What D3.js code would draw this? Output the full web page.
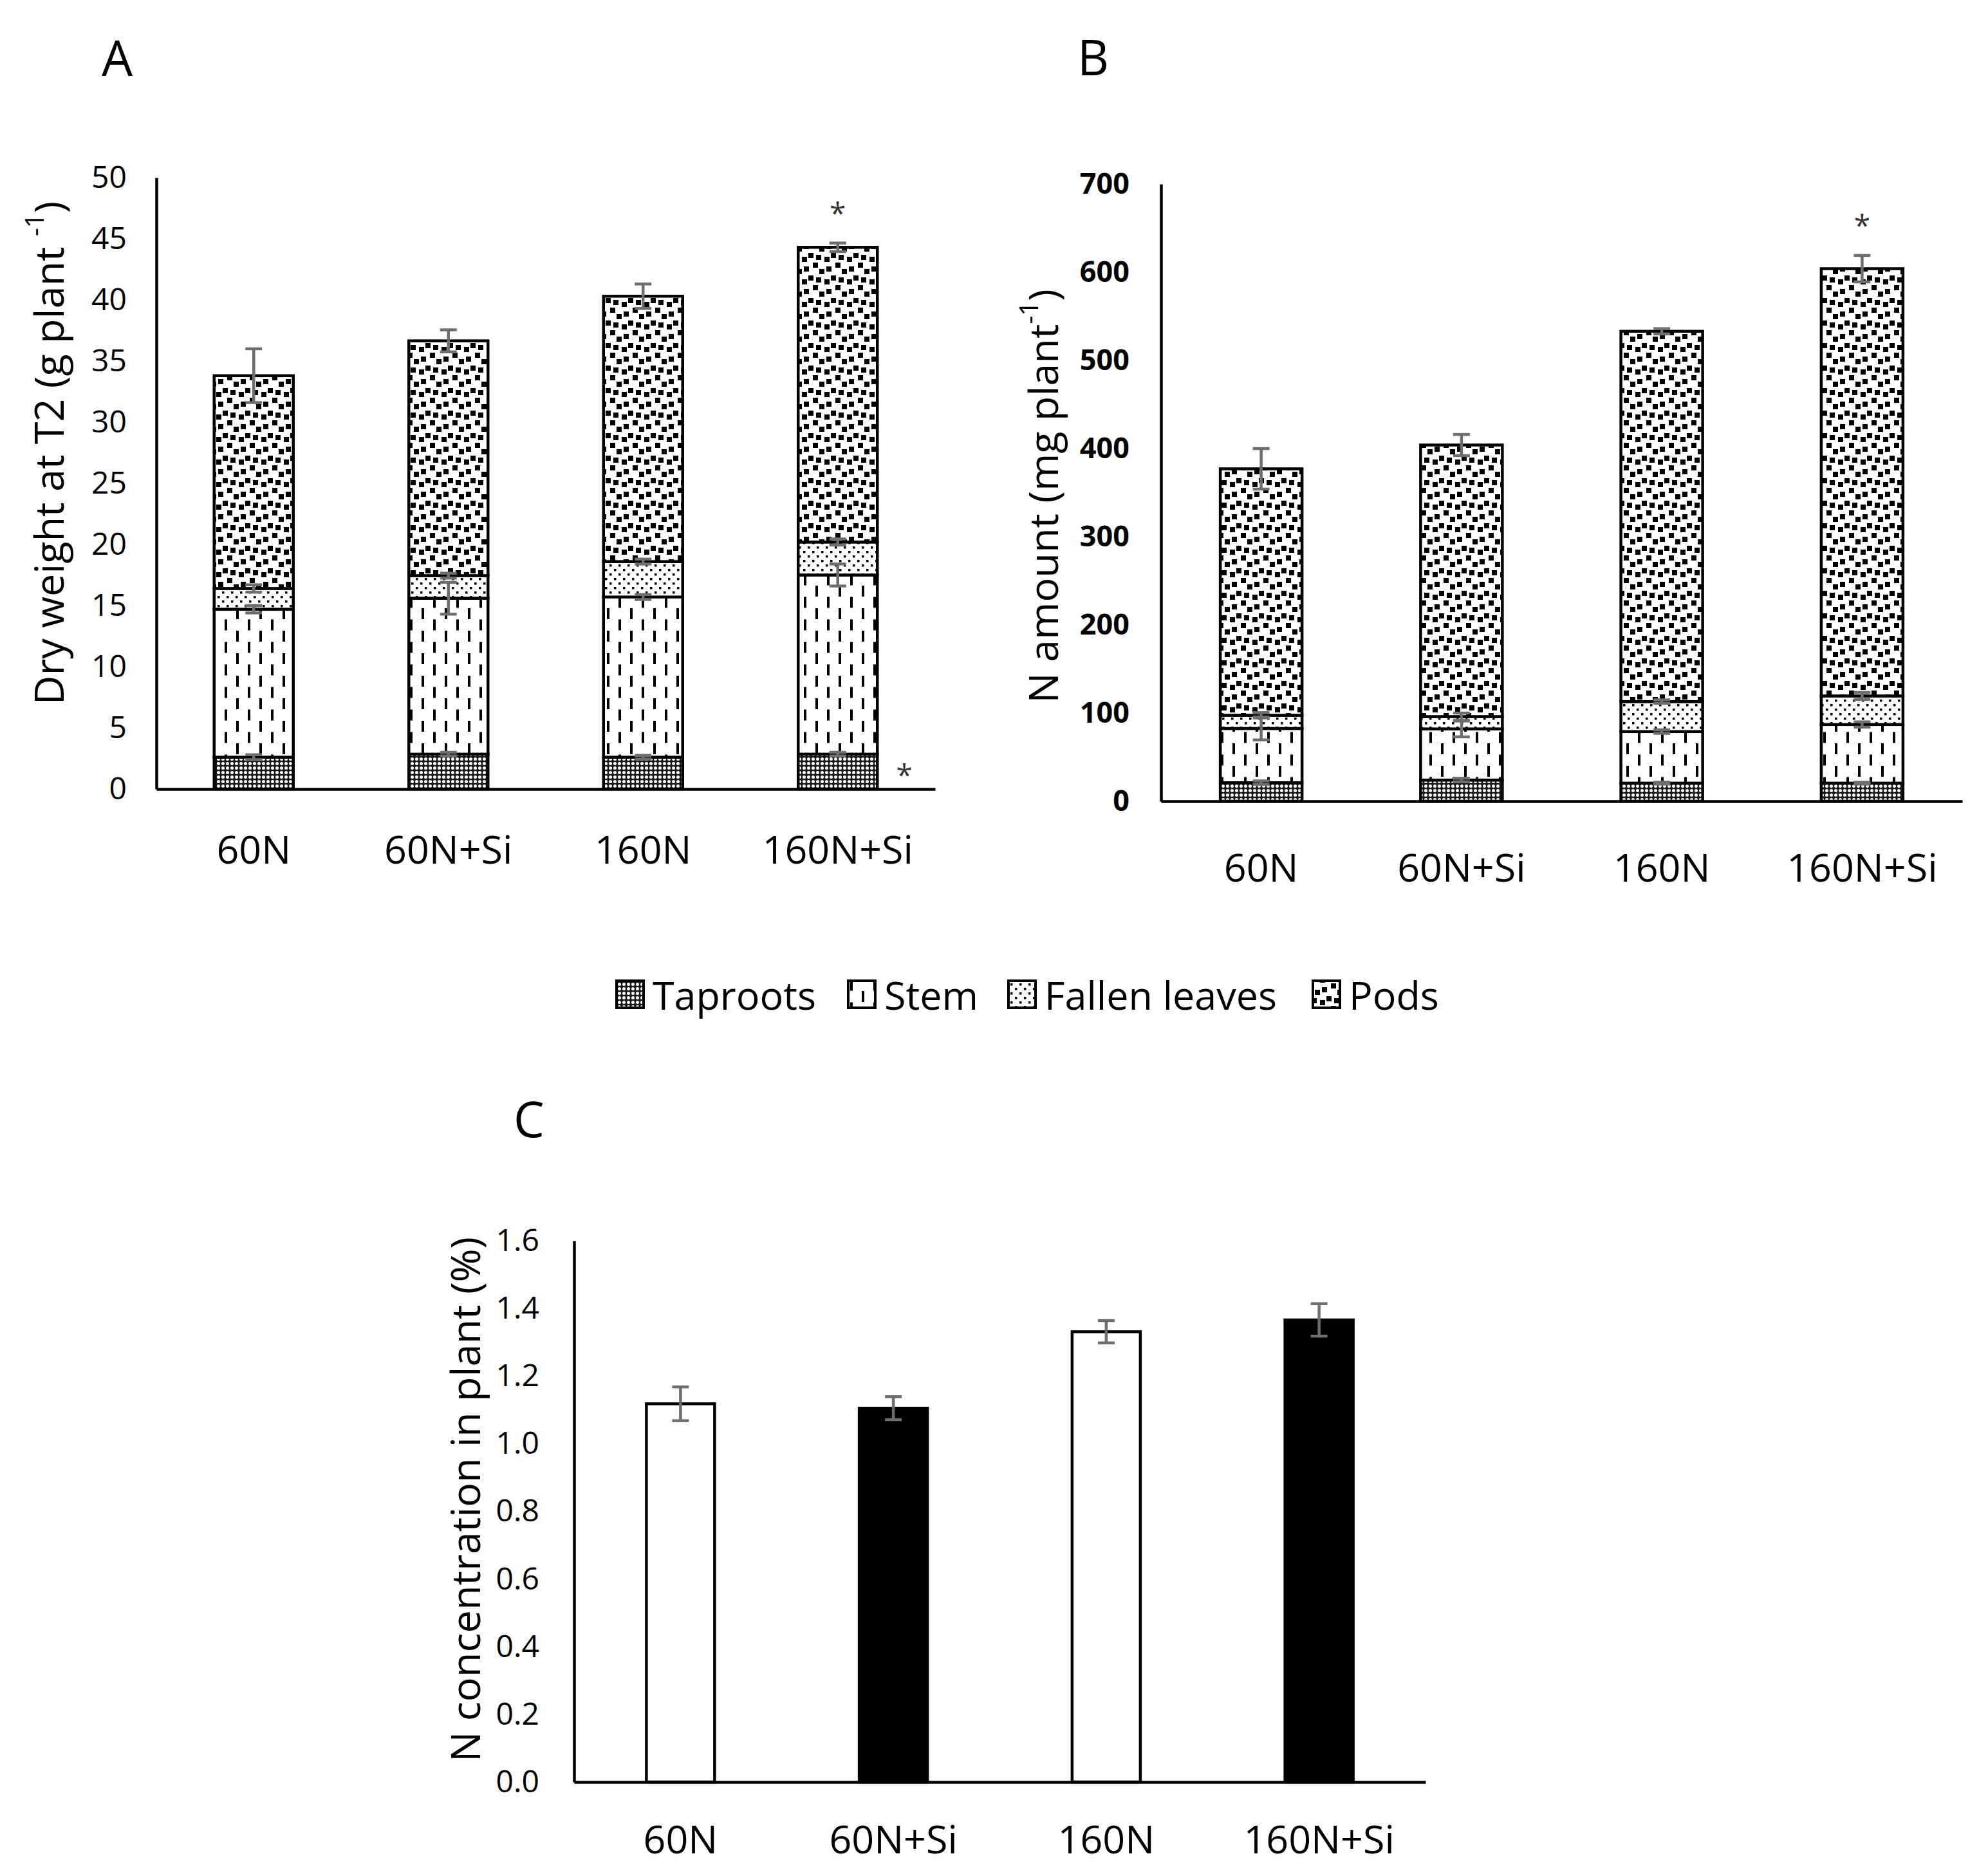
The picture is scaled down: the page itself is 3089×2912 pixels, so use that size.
<!DOCTYPE html>
<html><head><meta charset="utf-8">
<script src="https://cdn.jsdelivr.net/npm/d3@7"></script>
<style>body{margin:0;background:#fff} text{font-family:"Open Sans",sans-serif}</style>
</head><body>
<svg id="c" width="3089" height="2912" xmlns="http://www.w3.org/2000/svg"></svg>
<script>
// ---------- DATA ----------
const categories = ["60N", "60N+Si", "160N", "160N+Si"];
const seriesNames = ["Taproots", "Stem", "Fallen leaves", "Pods"];
const seriesKeys = ["taproots", "stem", "fallen", "pods"];

// Panel A: dry weight at T2 (g plant-1), component values
const dwTaproots = [2.6, 2.85, 2.6, 2.85];
const dwStem     = [12.1, 12.75, 13.1, 14.65];
const dwFallen   = [1.7, 1.85, 2.9, 2.7];
const dwPods     = [17.4, 19.2, 21.7, 24.1];
const dwTaprootsErr = [0.2, 0.15, 0.15, 0.15];
const dwStemErr     = [0.3, 1.3, 0.2, 0.9];
const dwFallenErr   = [0.3, 0.2, 0.2, 0.25];
const dwPodsErr     = [2.2, 0.9, 1.0, 0.35];
const aTicks = [0, 5, 10, 15, 20, 25, 30, 35, 40, 45, 50];

// Panel B: N amount (mg plant-1)
const naTaproots = [21, 24, 20.5, 20.5];
const naStem     = [61.5, 58, 58.5, 66.5];
const naFallen   = [15, 14, 34, 32.4];
const naPods     = [279.5, 308, 420, 484.6];
const naTaprootsErr = [2, 2, 1, 1];
const naStemErr     = [13, 9, 2, 3];
const naFallenErr   = [3, 4, 2, 4];
const naPodsErr     = [23, 12, 3, 15];
const bTicks = [0, 100, 200, 300, 400, 500, 600, 700];

// Panel C: N concentration in plant (%)
const ncValues = [1.118, 1.105, 1.331, 1.366];
const ncErr    = [0.05, 0.034, 0.033, 0.048];
const ncFills  = ["#ffffff", "#000000", "#ffffff", "#000000"];
const cTicks = [0, 0.2, 0.4, 0.6, 0.8, 1.0, 1.2, 1.4, 1.6];

// Significance marks
const starsA = [["160N+Si", "top"], ["160N+Si", "taproots"]];
const starsB = [["160N+Si", "top"]];

// ---------- BUILD ----------
const svg = d3.select("#c");
svg.append("rect").attr("width", 3089).attr("height", 2912).attr("fill", "#fff");

const defs = svg.append("defs");
// Taproots: dense dark with white dots
let p = defs.append("pattern").attr("id", "pat-taproots").attr("patternUnits", "userSpaceOnUse")
  .attr("width", 7).attr("height", 7);
p.append("rect").attr("width", 7).attr("height", 7).attr("fill", "#1a1a1a");
p.append("circle").attr("cx", 3.5).attr("cy", 3.5).attr("r", 2.5).attr("fill", "#fff");
// Stem: vertical dashes, alternating phase
p = defs.append("pattern").attr("id", "pat-stem").attr("patternUnits", "userSpaceOnUse")
  .attr("width", 36).attr("height", 35);
p.append("rect").attr("width", 36).attr("height", 35).attr("fill", "#fff");
p.append("rect").attr("x", 7).attr("y", 0).attr("width", 4).attr("height", 17).attr("fill", "#000");
p.append("rect").attr("x", 25).attr("y", 17.5).attr("width", 4).attr("height", 17).attr("fill", "#000");
// Fallen leaves: small sparse dots
p = defs.append("pattern").attr("id", "pat-fallen").attr("patternUnits", "userSpaceOnUse")
  .attr("width", 14).attr("height", 14);
p.append("rect").attr("width", 14).attr("height", 14).attr("fill", "#fff");
p.append("rect").attr("x", 2).attr("y", 2).attr("width", 3.5).attr("height", 3.5).attr("fill", "#000");
p.append("rect").attr("x", 9).attr("y", 9).attr("width", 3.5).attr("height", 3.5).attr("fill", "#000");
// Pods: large confetti (tile 35)
const T = 35;
p = defs.append("pattern").attr("id", "pat-pods").attr("patternUnits", "userSpaceOnUse")
  .attr("width", T).attr("height", T);
p.append("rect").attr("width", T).attr("height", T).attr("fill", "#fff");
[[17, 2], [12, 15], [0, 12], [25, 18], [7, 27], [28, 33]].forEach(([cx, cy]) => {
  [-T, 0, T].forEach(ox => [-T, 0, T].forEach(oy =>
    p.append("rect").attr("x", cx - 4 + ox).attr("y", cy - 4 + oy).attr("width", 8).attr("height", 8).attr("fill", "#000")));
});

const patFill = { taproots: "url(#pat-taproots)", stem: "url(#pat-stem)", fallen: "url(#pat-fallen)", pods: "url(#pat-pods)" };

function styleAxis(g, fs, weight) {
  g.select(".domain").attr("stroke", "#000").attr("stroke-width", 4.5);
  g.selectAll(".tick line").remove();
  g.selectAll("text").attr("font-size", fs).attr("font-weight", weight || 400)
    .attr("fill", "#000").attr("font-family", "'Open Sans',sans-serif");
}

function errBar(g, cx, y1, y2) {
  g.append("line").attr("x1", cx).attr("x2", cx).attr("y1", y1).attr("y2", y2)
    .attr("stroke", "#6e6e6e").attr("stroke-width", 4.5);
  [y1, y2].forEach(yy => g.append("line").attr("x1", cx - 13).attr("x2", cx + 13)
    .attr("y1", yy).attr("y2", yy).attr("stroke", "#6e6e6e").attr("stroke-width", 4.5));
}

function stackedPanel(cfg) {
  const rows = categories.map((c, i) => {
    const r = { cat: c };
    seriesKeys.forEach((k, j) => { r[k] = cfg.values[j][i]; r[k + "Err"] = cfg.errs[j][i]; });
    return r;
  });
  const x = d3.scaleBand().domain(categories).range(cfg.xRange);
  const y = d3.scaleLinear().domain([0, cfg.max]).range(cfg.yRange);
  const stack = d3.stack().keys(seriesKeys)(rows);
  const g = svg.append("g");
  const bw = cfg.barW;
  stack.forEach(layer => {
    g.selectAll(null).data(layer).join("rect")
      .attr("x", d => x(d.data.cat) + x.bandwidth() / 2 - bw / 2)
      .attr("y", d => y(d[1]))
      .attr("width", bw)
      .attr("height", d => y(d[0]) - y(d[1]))
      .attr("fill", patFill[layer.key])
      .attr("stroke", "#000").attr("stroke-width", 4.5);
  });
  stack.forEach(layer => {
    layer.forEach(d => {
      const cx = x(d.data.cat) + x.bandwidth() / 2;
      const e = d.data[layer.key + "Err"];
      errBar(g, cx, y(d[1] + e), y(d[1] - e));
    });
  });
  const ya = svg.append("g").attr("transform", `translate(${cfg.xRange[0]},0)`)
    .call(d3.axisLeft(y).tickValues(cfg.ticks).tickSize(0).tickSizeOuter(0).tickPadding(cfg.tickPad));
  styleAxis(ya, cfg.tickFs, cfg.tickWeight);
  const xa = svg.append("g").attr("transform", `translate(0,${cfg.yRange[0]})`)
    .call(d3.axisBottom(x).tickSize(0).tickSizeOuter(0));
  styleAxis(xa, 61);
  xa.selectAll("text").attr("dy", 0).attr("y", cfg.xLabelBase);
  cfg.stars.forEach(([cat, where]) => {
    const r = rows.find(d => d.cat === cat);
    const top = stack[stack.length - 1].find(d => d.data.cat === cat);
    const cx = x(cat) + x.bandwidth() / 2;
    if (where === "top") {
      svg.append("text").attr("x", cx).attr("y", y(top[1] + r.podsErr) - 30)
        .attr("text-anchor", "middle").attr("font-size", 46).attr("fill", "#333").text("*");
    } else {
      svg.append("text").attr("x", cx + bw / 2 + 42).attr("y", y(r.taproots / 2) + 22)
        .attr("text-anchor", "middle").attr("font-size", 46).attr("fill", "#333").text("*");
    }
  });
}

stackedPanel({
  values: [dwTaproots, dwStem, dwFallen, dwPods],
  errs: [dwTaprootsErr, dwStemErr, dwFallenErr, dwPodsErr],
  xRange: [243, 1453], yRange: [1226, 276], max: 50, barW: 123,
  ticks: aTicks, tickPad: 46, tickFs: 48, tickWeight: 400, xLabelBase: 116,
  stars: starsA
});
stackedPanel({
  values: [naTaproots, naStem, naFallen, naPods],
  errs: [naTaprootsErr, naStemErr, naFallenErr, naPodsErr],
  xRange: [1804, 3049], yRange: [1245, 286], max: 700, barW: 127,
  ticks: bTicks, tickPad: 49, tickFs: 45, tickWeight: 700, xLabelBase: 125,
  stars: starsB
});

// Panel C
(function () {
  const x = d3.scaleBand().domain(categories).range([892, 2215]);
  const y = d3.scaleLinear().domain([0, 1.6]).range([2769, 1928]);
  const bw = 106;
  const g = svg.append("g");
  g.selectAll(null).data(categories).join("rect")
    .attr("x", d => x(d) + x.bandwidth() / 2 - bw / 2)
    .attr("y", (d, i) => y(ncValues[i]))
    .attr("width", bw)
    .attr("height", (d, i) => y(0) - y(ncValues[i]))
    .attr("fill", (d, i) => ncFills[i])
    .attr("stroke", "#000").attr("stroke-width", 4.5);
  categories.forEach((c, i) => {
    const cx = x(c) + x.bandwidth() / 2;
    errBar(g, cx, y(ncValues[i] + ncErr[i]), y(ncValues[i] - ncErr[i]));
  });
  const ya = svg.append("g").attr("transform", "translate(892,0)")
    .call(d3.axisLeft(y).tickValues(cTicks).tickFormat(d3.format(".1f")).tickSize(0).tickSizeOuter(0).tickPadding(54));
  styleAxis(ya, 48);
  const xa = svg.append("g").attr("transform", "translate(0,2769)")
    .call(d3.axisBottom(x).tickSize(0).tickSizeOuter(0));
  styleAxis(xa, 61);
  xa.selectAll("text").attr("dy", 0).attr("y", 111);
})();

// panel letters
[["A", 158, 118], ["B", 1674, 117], ["C", 798, 1767]].forEach(([t, x, y]) =>
  svg.append("text").attr("x", x).attr("y", y).attr("font-size", 76).attr("fill", "#000").text(t));

// axis titles
function yTitle(cx, cy, main, sup, tail) {
  const t = svg.append("text").attr("transform", `translate(${cx},${cy}) rotate(-90)`)
    .attr("text-anchor", "middle").attr("dominant-baseline", "central")
    .attr("font-size", 63).attr("fill", "#000");
  t.append("tspan").text(main);
  if (sup) {
    t.append("tspan").attr("font-size", 40).attr("dy", -22).text(sup);
    t.append("tspan").attr("dy", 22).text(tail);
  }
}
yTitle(74, 704, "Dry weight at T2 (g plant ", "-1", ")");
yTitle(1619, 771, "N amount (mg plant", "-1", ")");
yTitle(721, 2330, "N concentration in plant (%)");

// legend
const legX = [958, 1318, 1567, 2040];
const lg = svg.append("g");
seriesKeys.forEach((k, i) => {
  lg.append("rect").attr("x", legX[i]).attr("y", 1545 - 21).attr("width", 42).attr("height", 42)
    .attr("fill", patFill[k]).attr("stroke", "#000").attr("stroke-width", 4);
  lg.append("text").attr("x", legX[i] + 56).attr("y", 1545).attr("dominant-baseline", "central")
    .attr("font-size", 61).attr("fill", "#000").text(seriesNames[i]);
});
</script>
</body></html>
